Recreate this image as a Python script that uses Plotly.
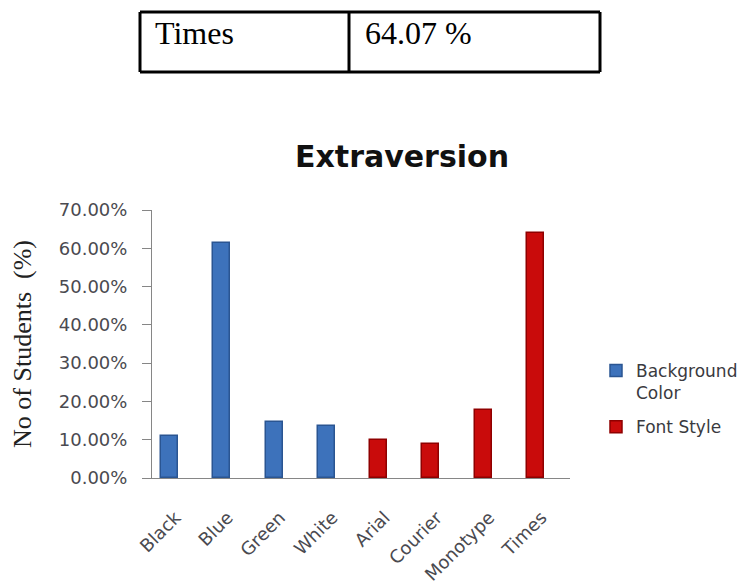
import plotly.graph_objects as go

# ---- data ----
bg_categories = ["Black", "Blue", "Green", "White"]
bg_values = [0.1095, 0.6150, 0.1460, 0.1360]
font_categories = ["Arial", "Courier", "Monotype", "Times"]
font_values = [0.1000, 0.0900, 0.1770, 0.6407]
all_categories = bg_categories + font_categories
series_names = ["Background<br>Color", "Font Style"]
chart_title = "Extraversion"
y_title = "No of Students\u00a0 (%)"
table_label = "Times"
table_value = f"{font_values[-1] * 100:.2f} %"

# ---- layout geometry (pixels) ----
W, H = 745, 584
L, R, T, B = 152, 570, 210, 478


def px_x(x):
    return (x - L) / (R - L)


def px_y(y):
    return (B - y) / (B - T)


tick_font = dict(family="DejaVu Sans", size=18, color="#4a4a50")

fig = go.Figure()
fig.add_trace(go.Bar(
    x=bg_categories, y=bg_values, name=series_names[0], width=0.325,
    legendgroup="bg",
    marker=dict(color="#3d72bb", line=dict(color="#2a5592", width=1.5)),
))
fig.add_trace(go.Bar(
    x=font_categories, y=font_values, name=series_names[1], width=0.325,
    legendgroup="font",
    marker=dict(color="#c90b0b", line=dict(color="#8f0000", width=1.5)),
))

# table fragment at top of page
shapes = []
tl, tm, tr, tt, tb = 140, 349, 600, 12, 72
for (x0, y0, x1, y1) in [(tl, tt, tr, tt), (tl, tb, tr, tb), (tl, tt, tl, tb),
                         (tm, tt, tm, tb), (tr, tt, tr, tb)]:
    shapes.append(dict(type="line", xref="paper", yref="paper",
                       x0=px_x(x0), y0=px_y(y0), x1=px_x(x1), y1=px_y(y1),
                       line=dict(color="black", width=3)))

annotations = [
    dict(text=table_label, xref="paper", yref="paper", x=px_x(153), y=px_y(33),
         xanchor="left", yanchor="middle", showarrow=False,
         font=dict(family="Liberation Serif", size=32, color="black")),
    dict(text=table_value, xref="paper", yref="paper", x=px_x(363), y=px_y(33),
         xanchor="left", yanchor="middle", showarrow=False,
         font=dict(family="Liberation Serif", size=32, color="black")),
]

fig.update_layout(
    width=W, height=H,
    margin=dict(l=L, r=W - R, t=T, b=H - B, autoexpand=False),
    paper_bgcolor="white", plot_bgcolor="white",
    barmode="overlay",
    title=dict(text=f"<b>{chart_title}</b>", xref="container", yref="container",
               x=402 / W, y=1 - 156 / H, xanchor="center", yanchor="middle",
               font=dict(family="DejaVu Sans", size=30, color="#111111")),
    showlegend=True,
    legend=dict(x=px_x(596), y=px_y(353), xanchor="left", yanchor="top",
                xref="paper", yref="paper", valign="top", traceorder="grouped",
                font=dict(family="DejaVu Sans", size=17, color="#3a3a40"),
                bgcolor="rgba(0,0,0,0)", itemwidth=30, tracegroupgap=9),
    shapes=shapes,
    annotations=annotations,
    bargap=0,
)

fig.update_xaxes(
    type="category", categoryorder="array", categoryarray=all_categories,
    range=[-0.335, 7.66], showline=True, linecolor="#868686", linewidth=1,
    ticks="", showgrid=False, zeroline=False, tickangle=-45,
    tickfont=tick_font, ticklabelstandoff=21, ticklabelshift=6,
)
fig.update_yaxes(
    range=[0, 0.7], dtick=0.1, tickformat=".2%", showline=True,
    linecolor="#868686", linewidth=1, ticks="outside", ticklen=9,
    tickcolor="#868686", showgrid=False, zeroline=False,
    tickfont=tick_font, ticklabelstandoff=11,
    title=dict(text=y_title, standoff=19,
               font=dict(family="Liberation Serif", size=26, color="#222222")),
)

fig.write_html("out.html", config={"displayModeBar": False},
               post_script="document.body.style.margin='0px';")
